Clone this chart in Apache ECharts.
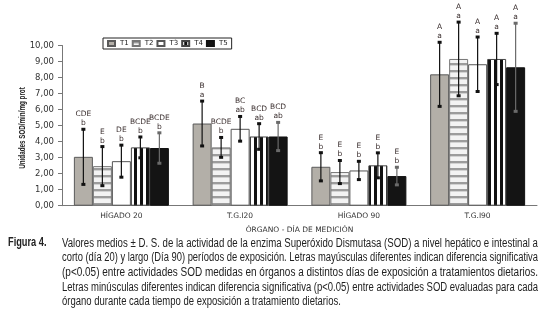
<!DOCTYPE html>
<html>
<head>
<meta charset="utf-8">
<script src="https://cdn.jsdelivr.net/npm/echarts@6/dist/echarts.min.js"></script>
<style>
  body { margin: 0; background: #fff; }
  #chart { position: absolute; left: 0; top: 0; width: 546px; height: 316px; }
  .cap { position: absolute; font-family: "Liberation Sans", sans-serif; color: #222; white-space: nowrap; transform-origin: 0 0; }
  #fig { left: 8px; top: 235px; font-size: 12.5px; font-weight: bold; transform: scaleX(0.74); }
  .ln { left: 62px; font-size: 12.5px; line-height: 14px; }
</style>
</head>
<body>
<div id="chart"></div>
<div class="cap" id="fig">Figura 4.</div>
<div class="cap ln" style="top:235.5px">Valores medios ± D. S. de la actividad de la enzima Superóxido Dismutasa (SOD) a nivel hepático e intestinal a</div>
<div class="cap ln" style="top:250.2px">corto (día 20) y largo (Día 90) períodos de exposición. Letras mayúsculas diferentes indican diferencia significativa</div>
<div class="cap ln" style="top:264.9px">(p&lt;0.05) entre actividades SOD medidas en órganos a distintos días de exposición a tratamientos dietarios.</div>
<div class="cap ln" style="top:279.6px">Letras minúsculas diferentes indican diferencia significativa (p&lt;0.05) entre actividades SOD evaluadas para cada</div>
<div class="cap ln last" style="top:294.3px">órgano durante cada tiempo de exposición a tratamiento dietarios.</div>
<script>
const categories = ["HÍGADO 20", "T.G.I20", "HÍGADO 90", "T.G.I90"];
const treatments = ["T1", "T2", "T3", "T4", "T5"];

// medias
const t1 = [3.05, 5.13, 2.43, 8.2];
const t2 = [2.47, 3.64, 2.1, 9.16];
const t3 = [2.78, 4.8, 2.2, 8.83];
const t4 = [3.64, 4.32, 2.52, 9.16];
const t5 = [3.6, 4.32, 1.85, 8.64];

// desviaciones estandar
const sd1 = [1.72, 1.4, 0.88, 2.0];
const sd2 = [1.22, 0.62, 0.72, 2.3];
const sd3 = [1.0, 0.77, 0.57, 1.7];
const sd4 = [0.65, 0.8, 0.78, 1.6];
const sd5 = [0.95, 0.88, 0.55, 2.75];

// letras de significancia
const upper1 = ["CDE", "B", "E", "A"];
const upper2 = ["E", "BCDE", "E", "A"];
const upper3 = ["DE", "BC", "E", "A"];
const upper4 = ["BCDE", "BCD", "E", "A"];
const upper5 = ["BCDE", "BCD", "E", "A"];
const lower1 = ["b", "a", "b", "a"];
const lower2 = ["b", "b", "b", "a"];
const lower3 = ["b", "ab", "b", "a"];
const lower4 = ["b", "ab", "b", "a"];
const lower5 = ["b", "ab", "b", "a"];

const yTicks = [0, 1, 2, 3, 4, 5, 6, 7, 8, 9, 10];

const means = [t1, t2, t3, t4, t5];
const sds = [sd1, sd2, sd3, sd4, sd5];
const uppers = [upper1, upper2, upper3, upper4, upper5];
const lowers = [lower1, lower2, lower3, lower4, lower5];

// caption lines: squeeze each full line to the column width (476px)
const lines = document.querySelectorAll(".ln");
let lastScale = 0.7;
lines.forEach((el) => {
  if (el.classList.contains("last")) {
    el.style.transform = "scaleX(" + lastScale + ")";
  } else {
    lastScale = 476 / el.getBoundingClientRect().width;
    el.style.transform = "scaleX(" + lastScale + ")";
  }
});

function makePattern(w, h, draw) {
  const c = document.createElement("canvas");
  c.width = w;
  c.height = h;
  draw(c.getContext("2d"));
  return { image: c, repeat: "repeat" };
}

const hStripes = makePattern(4, 7, (ctx) => {
  ctx.fillStyle = "#f3f3f3";
  ctx.fillRect(0, 0, 4, 7);
  ctx.fillStyle = "#9c9c9c";
  ctx.fillRect(0, 0, 4, 2);
  ctx.fillStyle = "#d2d2d2";
  ctx.fillRect(0, 2, 4, 1);
});
const vStripes = makePattern(6, 4, (ctx) => {
  ctx.fillStyle = "#ffffff";
  ctx.fillRect(0, 0, 6, 4);
  ctx.fillStyle = "#111111";
  ctx.fillRect(2, 0, 3, 4);
});

const fills = ["#b3afa8", hStripes, "#ffffff", vStripes, "#141414"];
const borders = ["#5a5a5a", "#777777", "#555555", "#444444", "#111111"];
const whiskerColors = ["#111", "#111", "#111", "#111", "#6a6a6a"];

const chart = echarts.init(document.getElementById("chart"));

const barSeries = treatments.map((name, s) => ({
  name: name,
  type: "bar",
  data: means[s],
  barGap: 0,
  barCategoryGap: "20%",
  itemStyle: { color: fills[s], borderColor: borders[s], borderWidth: 1 },
  silent: true,
  animation: false,
}));

const errSeries = treatments.map((name, s) => ({
  type: "custom",
  name: name + "-err",
  data: means[s].map((v, i) => [i, v, sds[s][i]]),
  z: 5,
  clip: false,
  silent: true,
  animation: false,
  renderItem: (params, api) => {
    const i = api.value(0);
    const m = api.value(1);
    const sd = api.value(2);
    const center = api.coord([i, 0])[0];
    const band = api.size([1, 0])[0];
    const bw = (band * 0.8) / 5;
    const x = center - band * 0.4 + bw * (s + 0.5);
    const yHi = api.coord([i, m + sd])[1];
    const yLo = api.coord([i, Math.max(m - sd, 0)])[1];
    const col = whiskerColors[s];
    return {
      type: "group",
      children: [
        { type: "line", shape: { x1: x, y1: yHi, x2: x, y2: yLo }, style: { stroke: col, lineWidth: 1.2 } },
        { type: "rect", shape: { x: x - 2, y: yHi - 1.5, width: 4, height: 3 }, style: { fill: col } },
        { type: "rect", shape: { x: x - 2, y: yLo - 1.5, width: 4, height: 3 }, style: { fill: col } },
        {
          type: "text",
          x: x, y: yHi - 15,
          style: { text: uppers[s][i], fill: "#3a2e2e", font: "7.5px 'DejaVu Sans'", align: "center", verticalAlign: "middle" },
        },
        {
          type: "text",
          x: x, y: yHi - 6,
          style: { text: lowers[s][i], fill: "#3a2e2e", font: "7.5px 'DejaVu Sans'", align: "center", verticalAlign: "middle" },
        },
      ],
    };
  },
}));

chart.setOption({
  animation: false,
  legend: {
    data: treatments,
    left: 103,
    top: 38,
    padding: [2, 4, 2, 4],
    borderColor: "#222",
    borderWidth: 1,
    itemWidth: 7,
    itemHeight: 5,
    itemGap: 3,
    icon: "rect",
    textStyle: { fontSize: 7, fontFamily: "DejaVu Sans", color: "#222" },
  },
  graphic: [
    {
      type: "text",
      x: 22,
      y: 128,
      rotation: Math.PI / 2,
      scaleX: 0.66,
      style: {
        text: "Unidades SOD/min/mg prot",
        font: "bold 9.5px 'Liberation Sans'",
        fill: "#222",
        align: "center",
        verticalAlign: "middle",
      },
    },
  ],
  grid: { left: 62, right: 9, top: 45.5, bottom: 110.3 },
  xAxis: {
    type: "category",
    data: categories,
    name: "ÓRGANO - DÍA DE MEDICIÓN",
    nameLocation: "middle",
    nameGap: 20,
    nameTextStyle: { fontSize: 7.5, fontFamily: "DejaVu Sans", color: "#333" },
    axisLine: { lineStyle: { color: "#777", width: 1 } },
    axisTick: { show: false },
    axisLabel: { fontSize: 7.5, fontFamily: "DejaVu Sans", color: "#333", margin: 6 },
  },
  yAxis: {
    type: "value",
    min: yTicks[0],
    max: yTicks[yTicks.length - 1],
    interval: 1,
    axisLine: { show: true, lineStyle: { color: "#777", width: 1 } },
    axisTick: { show: true, length: 4, lineStyle: { color: "#777" } },
    splitLine: { show: false },
    axisLabel: {
      fontSize: 8.5,
      fontFamily: "DejaVu Sans",
      color: "#333",
      margin: 8,
      formatter: (v) => v.toFixed(2).replace(".", ","),
    },
  },
  series: [...barSeries, ...errSeries],
});
</script>
</body>
</html>
